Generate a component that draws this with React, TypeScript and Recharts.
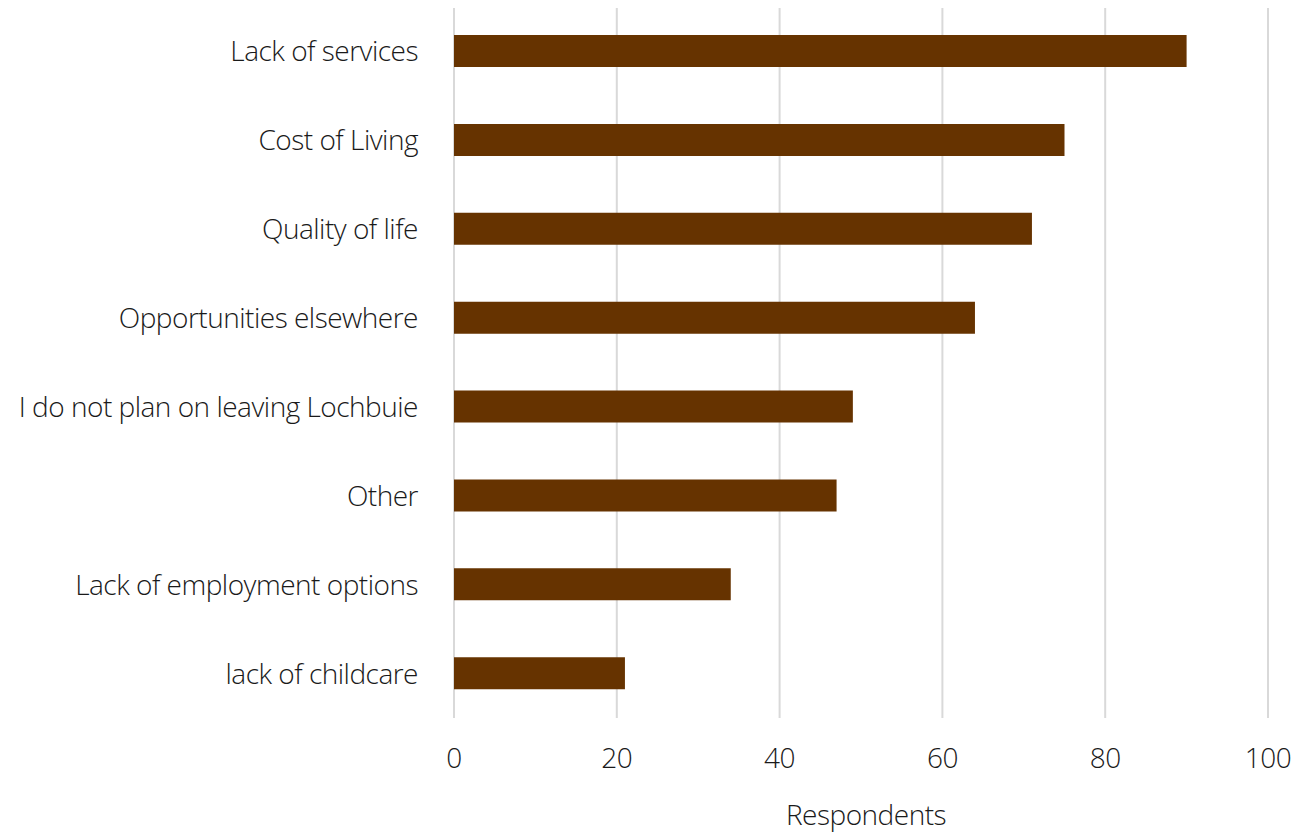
import { BarChart, Bar, XAxis, YAxis, CartesianGrid } from 'recharts'

const reasons = [
  'Lack of services',
  'Cost of Living',
  'Quality of life',
  'Opportunities elsewhere',
  'I do not plan on leaving Lochbuie',
  'Other',
  'Lack of employment options',
  'lack of childcare',
]
const respondents = [90, 75, 71, 64, 49, 47, 34, 21]
const xTicks = [0, 20, 40, 60, 80, 100]

const plotdata = reasons.map((name, i) => ({ name, value: respondents[i] }))

const font = {
  fontFamily: '"Open Sans", sans-serif',
  fontWeight: 300,
  fontSize: 28,
  letterSpacing: -0.5,
  fill: '#1a1a1a',
}

const App = () => {
  return (
    <div style={{ margin: '-8px 0 0 -8px', width: 1309, height: 834 }}>
      <BarChart
        width={1309}
        height={834}
        data={plotdata}
        layout="vertical"
        margin={{ top: 7, right: 41, left: 0, bottom: 0 }}
        barSize={32}
      >
        <CartesianGrid stroke="#d9d9d9" strokeWidth={2} horizontal={false} />
        <XAxis
          type="number"
          domain={[0, 100]}
          ticks={xTicks}
          axisLine={false}
          tickLine={false}
          tickMargin={24}
          height={116}
          tick={font}
          label={{
            value: 'Respondents',
            position: 'insideBottom',
            offset: 9,
            dx: 5,
            style: { ...font, fontSize: 28 },
          }}
        />
        <YAxis
          type="category"
          dataKey="name"
          width={454}
          axisLine={false}
          tickLine={false}
          tickMargin={30}
          tick={font}
        />
        <Bar dataKey="value" fill="#663300" isAnimationActive={false} />
      </BarChart>
    </div>
  )
}

export default App
